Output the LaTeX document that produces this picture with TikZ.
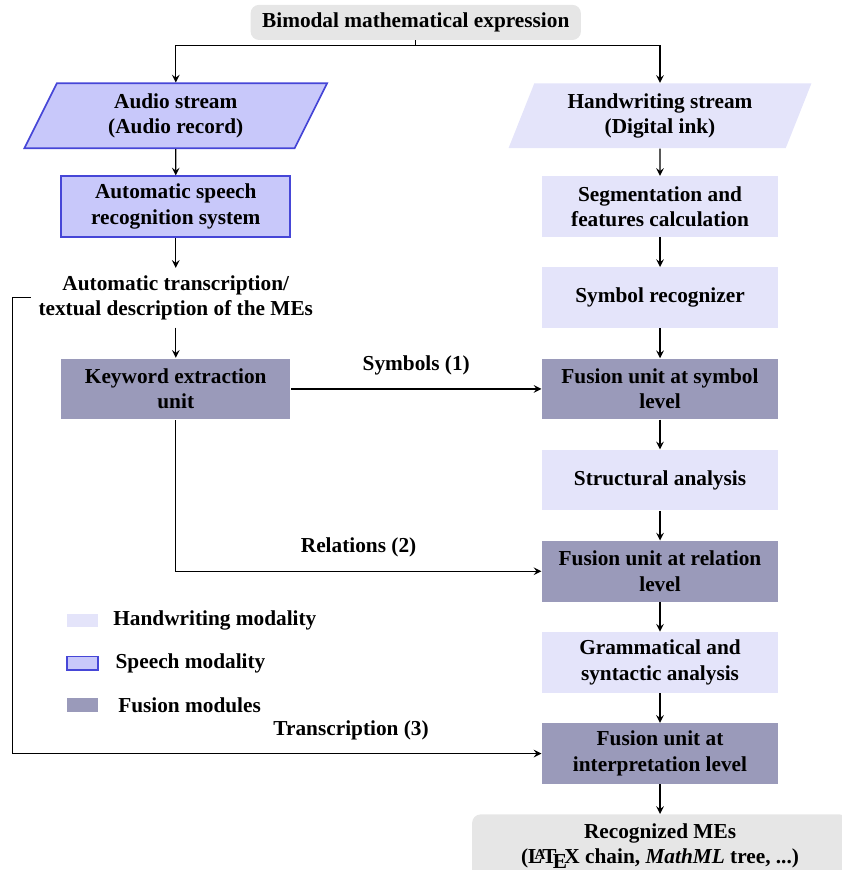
\documentclass[tikz,border=0pt]{standalone}
\usepackage{fontspec}
\setmainfont{Liberation Serif}
\usepackage{xcolor}
\usepackage{tikz}
\usetikzlibrary{positioning, arrows.meta, shapes.geometric}

\definecolor{hwfill}{RGB}{228,228,250}
\definecolor{spfill}{RGB}{200,200,250}
\definecolor{spdraw}{RGB}{70,70,215}
\definecolor{fusefill}{RGB}{154,154,186}
\definecolor{endfill}{RGB}{230,230,230}

\begin{document}
\begin{tikzpicture}[
    node distance=0.49cm,
    box/.style={rectangle, minimum width=3.9cm, minimum height=1cm, align=center, font=\bfseries},
    hw/.style={box, fill=hwfill},
    speech/.style={box, minimum width=3.78cm, fill=spfill, draw=spdraw, thick},
    fusion/.style={box, fill=fusefill},
    stream/.style={trapezium, trapezium left angle=71, trapezium right angle=109, trapezium stretches=true, minimum width=5cm, minimum height=1.07cm, align=center, font=\bfseries},
    term/.style={rectangle, rounded corners, fill=endfill, align=center, font=\bfseries},
    swatch/.style={rectangle, minimum width=0.52cm, minimum height=0.22cm, inner sep=0pt},
    lbl/.style={font=\bfseries},
    arrow/.style={->, >=stealth, semithick}
]
\useasboundingbox (0,0) rectangle (13.89,-14.355);

% Input
\node[term, minimum width=5.45cm, minimum height=0.58cm] (input) at (6.86,-0.37) {Bimodal mathematical expression};

% Streams
\node[stream, fill=spfill, draw=spdraw, thick] (audio) at (2.9,-1.91) {Audio stream\\(Audio record)};
\node[stream, fill=hwfill] (ink) at (10.89,-1.91) {Handwriting stream\\(Digital ink)};

% Handwriting branch
\node[hw, below=0.45cm of ink] (seg) {Segmentation and\\features calculation};
\node[hw, below=of seg] (symrec) {Symbol recognizer};
\node[fusion, below=of symrec] (fsym) {Fusion unit at symbol\\level};
\node[hw, below=of fsym] (struct) {Structural analysis};
\node[fusion, below=of struct] (frel) {Fusion unit at relation\\level};
\node[hw, below=of frel] (gram) {Grammatical and\\syntactic analysis};
\node[fusion, below=of gram] (fint) {Fusion unit at\\interpretation level};
\node[term, minimum width=6.2cm, minimum height=1.05cm, below=of fint] (output) {Recognized MEs\\(\LaTeX\ chain, \textit{MathML} tree, ...)};

% Speech branch
\node[speech] (asr) at (audio |- seg) {Automatic speech\\recognition system};
\node[lbl, align=center] (trans) at (audio |- symrec) {Automatic transcription/\\textual description of the MEs};
\node[speech, fill=fusefill, draw=none] (kw) at (audio |- fsym) {Keyword extraction\\unit};

% Legend
\node[swatch, fill=hwfill] (leghw) at (1.36,-10.24) {};
\node[swatch, fill=spfill, draw=spdraw, thick] (legsp) at (1.36,-10.94) {};
\node[swatch, fill=fusefill] (legfu) at (1.36,-11.63) {};
\node[lbl, right=0.12cm of leghw] (txthw) {Handwriting modality};
\node[lbl, right=0.15cm of legsp] (txtsp) {Speech modality};
\node[lbl, right=0.2cm of legfu] (txtfu) {Fusion modules};

% Arrows
\coordinate[below=0.08cm of input.south] (split);
\coordinate (loop) at (0.21,-4.87);
\draw[semithick] (input.south) -- (split);
\draw[arrow] (split) -| (audio.north);
\draw[arrow] (split) -| (ink.north);
\draw[arrow] (audio) -- (asr);
\draw[arrow] (asr) -- (trans);
\draw[arrow] (trans) -- (kw);
\draw[arrow] (ink) -- (seg);
\draw[arrow] (seg) -- (symrec);
\draw[arrow] (symrec) -- (fsym);
\draw[arrow] (fsym) -- (struct);
\draw[arrow] (struct) -- (frel);
\draw[arrow] (frel) -- (gram);
\draw[arrow] (gram) -- (fint);
\draw[arrow] (fint) -- (output);
\draw[arrow] (kw) -- node[lbl, above=0.1cm] {Symbols (1)} (fsym);
\draw[arrow] (kw) |- node[lbl, pos=0.75, above=0.1cm] {Relations (2)} (frel);
\draw[arrow] (trans.west) -- (trans.west -| loop) |- node[lbl, pos=0.82, above=0.1cm] {Transcription (3)} (fint);
\end{tikzpicture}
\end{document}
